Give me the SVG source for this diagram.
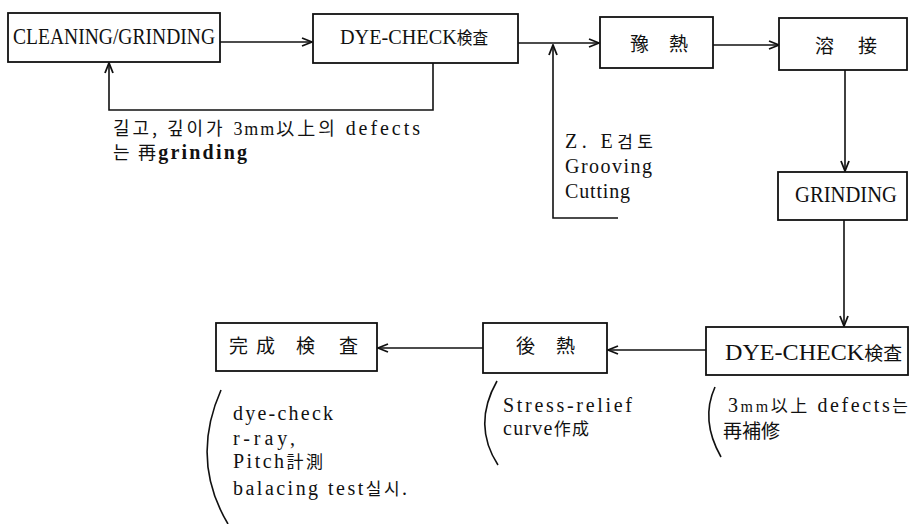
<svg xmlns="http://www.w3.org/2000/svg" width="911" height="524" viewBox="0 0 911 524">
<style>
.box{fill:#fff;stroke:#111;stroke-width:1.8}
.ln{fill:none;stroke:#111;stroke-width:1.6}
.t{font-family:"Liberation Serif",serif;fill:#111}
.k{font-family:"Noto Sans CJK KR","Noto Sans CJK JP",sans-serif}
.c{font-family:"Noto Sans CJK KR","Noto Sans CJK JP",sans-serif;font-size:19px;fill:#111}
.n{font-size:20px}
</style>
<defs>
<marker id="ah" markerWidth="12" markerHeight="10" refX="11" refY="5" orient="auto" markerUnits="userSpaceOnUse">
<path d="M1,1 L11,5 L1,9" fill="none" stroke="#111" stroke-width="1.8"/>
</marker>
</defs>
<rect width="911" height="524" fill="#fff"/>

<g id="connectors">
<path class="ln" d="M220,42 L312,42" marker-end="url(#ah)"/>
<path class="ln" d="M433,63 L433,110 L109,110 L109,63" marker-end="url(#ah)"/>
<path class="ln" d="M518,43 L599,43" marker-end="url(#ah)"/>
<path class="ln" d="M618,218 L553,218 L553,45" marker-end="url(#ah)"/>
<path class="ln" d="M713,45 L779,45" marker-end="url(#ah)"/>
<path class="ln" d="M845,70 L845,171" marker-end="url(#ah)"/>
<path class="ln" d="M844,220 L844,326" marker-end="url(#ah)"/>
<path class="ln" d="M706,350 L608,350" marker-end="url(#ah)"/>
<path class="ln" d="M483,348 L378,348" marker-end="url(#ah)"/>
</g>

<g id="n1">
<rect class="box" x="8" y="13" width="212" height="49"/>
<text class="t" x="13" y="44" font-size="24" textLength="202" lengthAdjust="spacingAndGlyphs">CLEANING/GRINDING</text>
</g>
<g id="n2">
<rect class="box" x="313" y="14" width="205" height="49"/>
<text class="t" x="340" y="44" font-size="22" textLength="148" lengthAdjust="spacingAndGlyphs">DYE-CHECK<tspan class="k" font-size="17">検査</tspan></text>
</g>
<g id="n3">
<rect class="box" x="600" y="17" width="113" height="51"/>
<text class="c" x="630 650 669" y="51" font-size="20">豫 熱</text>
</g>
<g id="n4">
<rect class="box" x="779" y="18" width="128" height="52"/>
<text class="c" x="815 835 858" y="53" font-size="20">溶 接</text>
</g>
<g id="n5">
<rect class="box" x="778" y="172" width="129" height="48"/>
<text class="t" x="795" y="202" font-size="23" textLength="102" lengthAdjust="spacingAndGlyphs">GRINDING</text>
</g>
<g id="n6">
<rect class="box" x="706" y="327" width="202" height="48"/>
<text class="t" x="725" y="360" font-size="23" textLength="177" lengthAdjust="spacingAndGlyphs">DYE-CHECK<tspan class="k" font-size="18">検査</tspan></text>
</g>
<g id="n7">
<rect class="box" x="483" y="323" width="124" height="50"/>
<text class="c" x="516 536 556" y="353" font-size="20">後 熱</text>
</g>
<g id="n8">
<rect class="box" x="216" y="323" width="161" height="48"/>
<text class="c" x="229 248 256 276 296 316 339" y="353" font-size="20">完 成 検 査</text>
</g>

<g id="notes">
<text class="t n" x="113" y="135" textLength="307" lengthAdjust="spacing"><tspan class="k" font-size="18">길고, 깊이가</tspan> <tspan font-size="18" letter-spacing="-1">3mm</tspan><tspan class="k" font-size="18">以上의</tspan> defects</text>
<text class="t n" x="113" y="159" textLength="134" lengthAdjust="spacing"><tspan class="k" font-size="18">는 再</tspan><tspan font-weight="bold">grinding</tspan></text>

<text class="t n" x="565" y="148" textLength="88" lengthAdjust="spacing">Z. E<tspan class="k" font-size="17">검토</tspan></text>
<text class="t n" x="565" y="173" textLength="87" lengthAdjust="spacing">Grooving</text>
<text class="t n" x="565" y="198" textLength="65" lengthAdjust="spacing">Cutting</text>

<path class="ln" d="M715,387 Q700,420 721,457"/>
<text class="t n" x="728" y="412" textLength="180" lengthAdjust="spacing">3<tspan font-size="16">mm</tspan><tspan class="k" font-size="17">以上</tspan> defects<tspan class="k" font-size="17">는</tspan></text>
<text class="k" x="723" y="438" font-size="19" fill="#111">再補修</text>

<path class="ln" d="M497,381 Q472,425 498,465"/>
<text class="t n" x="503" y="412" textLength="129" lengthAdjust="spacing">Stress-relief</text>
<text class="t n" x="503" y="435" textLength="86" lengthAdjust="spacing">curve<tspan class="k" font-size="17">作成</tspan></text>

<path class="ln" d="M221,390 Q190,460 228,524"/>
<text class="t n" x="233" y="420" textLength="100" lengthAdjust="spacing">dye-check</text>
<text class="t n" x="233" y="445" textLength="62" lengthAdjust="spacing">r-ray,</text>
<text class="t n" x="233" y="468" textLength="90" lengthAdjust="spacing">Pitch<tspan class="k" font-size="17">計測</tspan></text>
<text class="t n" x="233" y="495" textLength="174" lengthAdjust="spacing">balacing test<tspan class="k" font-size="17">실시</tspan>.</text>
</g>
</svg>
